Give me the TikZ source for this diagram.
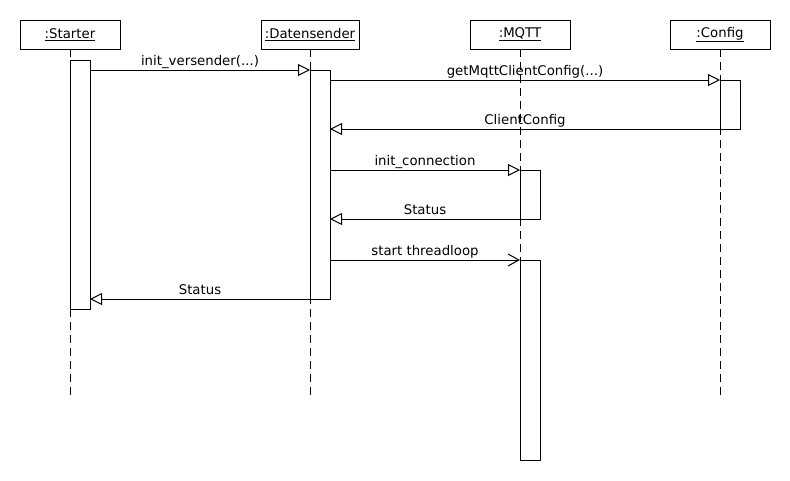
\documentclass[tikz,border=0pt]{standalone}
\usepackage{fontspec}
\setmainfont{DejaVu Sans}
\usetikzlibrary{arrows.meta}
\tikzset{
  obj/.style={draw, minimum width=100pt, minimum height=29pt, inner sep=0pt, outer sep=0pt, font=\fontsize{13.3}{16}\selectfont},
  life/.style={dash pattern=on 8pt off 5pt},
  act/.style={draw, fill=white, minimum width=20pt, inner sep=0pt, outer sep=0pt, anchor=north west},
  call/.style={-{Triangle[open,length=12pt,width=12pt]}},
  async/.style={-{Straight Barb[length=11pt,width=12pt]}},
  msg/.style={anchor=base, yshift=4.5pt, font=\fontsize{13.3}{16}\selectfont}
}
\begin{document}
\begin{tikzpicture}[x=1pt,y=-1pt,line width=1pt]
\useasboundingbox (0,0) rectangle (790,480);

\node[obj] (S) at (70,34.5) {\underline{:Starter}};
\node[obj,minimum width=98pt] (D) at (310,34.5) {\underline{:Datensender}};
\node[obj] (M) at (520,34.5) {\underline{:MQTT}};
\node[obj] (C) at (720,34.5) {\underline{:Config}};

\draw[life] (S.south)--++(0,348);
\draw[life] (D.south)--++(0,348);
\draw[life] (M.south)--++(0,220);
\draw[life] (C.south)--++(0,348);

\node[act,minimum height=249pt] (S1) at (70,60) {};
\node[act,minimum height=229pt] (D1) at (310,70) {};
\node[act,minimum height=49pt] (C1) at (720,80) {};
\node[act,minimum height=49pt] (M1) at (520,170) {};
\node[act,minimum height=200pt] (M2) at (520,260) {};

\draw[call] (S1.east |- D1.north)--node[midway,msg]{init\_versender(...)}(D1.west |- D1.north);
\draw[call] (D1.east |- C1.north)--node[midway,msg]{getMqttClientConfig(...)}(C1.west |- C1.north);
\draw[call] (C1.west |- C1.south)--node[midway,msg]{ClientConfig}(D1.east |- C1.south);
\draw[call] (D1.east |- M1.north)--node[midway,msg]{init\_connection}(M1.west |- M1.north);
\draw[call] (M1.west |- M1.south)--node[midway,msg]{Status}(D1.east |- M1.south);
\draw[async] (D1.east |- M2.north)--node[midway,msg]{start threadloop}(M2.west |- M2.north);
\draw[call] (D1.west |- D1.south)--node[midway,msg]{Status}(S1.east |- D1.south);

\end{tikzpicture}
\end{document}
